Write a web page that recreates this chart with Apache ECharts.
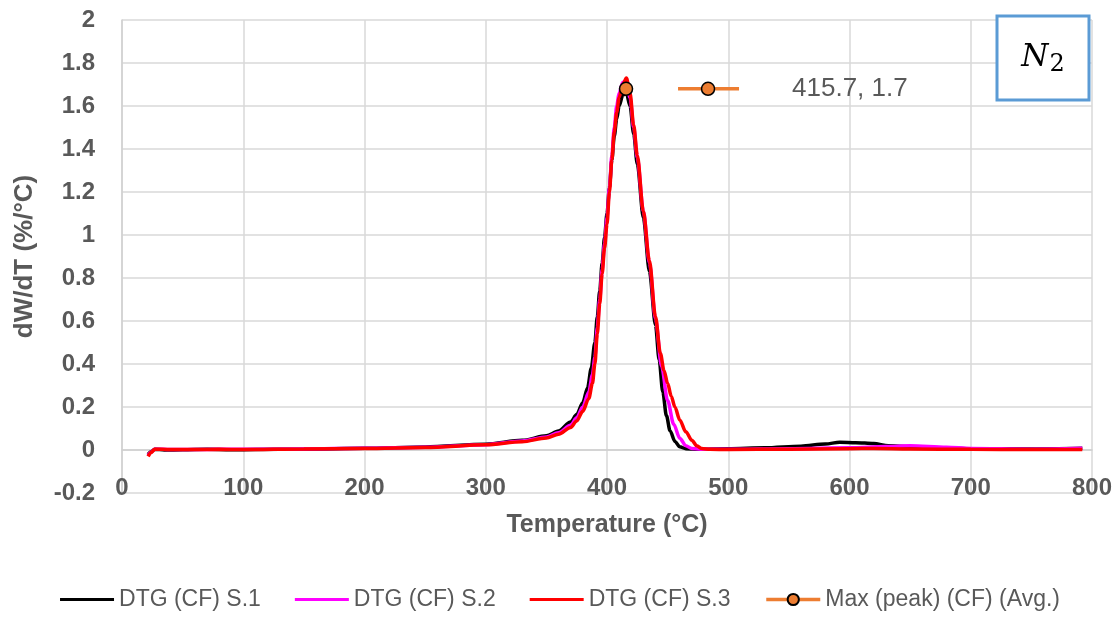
<!DOCTYPE html>
<html><head><meta charset="utf-8">
<script src="https://cdn.jsdelivr.net/npm/echarts@6/dist/echarts.min.js"></script>
<style>html,body{margin:0;padding:0;background:#fff}#c{width:1120px;height:618px}</style>
</head><body><div id="c"></div>
<script>
const seriesNames = ['DTG (CF) S.1','DTG (CF) S.2','DTG (CF) S.3','Max (peak) (CF) (Avg.)'];
const xTicks = [0,100,200,300,400,500,600,700,800];
const yTicks = [-0.2,0,0.2,0.4,0.6,0.8,1,1.2,1.4,1.6,1.8,2];

const tS1 = [21.5,24,27,35,50,70,90,110,150,200,250,300,330,350,360,370,375,380,384,387,390,392,394,396,398,400,402,404,406,408,410,413,416,419,422,425,430,435,440,443,446,449,452,456,460,465,475,500,530,560,580,592,605,620,632,660,700,750,792];
const vS1 = [-0.02,-0.008,0.004,0.0,0.001,0.003,0.001,0.002,0.004,0.008,0.014,0.027,0.045,0.066,0.088,0.13,0.165,0.22,0.29,0.38,0.5,0.62,0.74,0.87,0.99,1.1,1.22,1.35,1.46,1.54,1.6,1.65,1.66,1.6,1.47,1.33,1.08,0.83,0.58,0.42,0.27,0.16,0.09,0.04,0.015,0.006,0.004,0.006,0.01,0.018,0.028,0.036,0.034,0.03,0.02,0.013,0.006,0.005,0.008];

const tS2 = [21.5,24,27,40,60,80,100,150,200,250,300,330,350,360,370,375,380,385,388,390,392,394,396,398,400,402,404,406,408,410,413,416,419,422,425,430,435,440,445,450,455,460,465,470,480,500,550,600,630,650,680,700,750,792];
const vS2 = [-0.025,-0.01,0.004,0.002,0.002,0.003,0.003,0.005,0.008,0.013,0.025,0.042,0.061,0.08,0.115,0.15,0.2,0.27,0.35,0.43,0.57,0.7,0.84,0.96,1.08,1.22,1.37,1.5,1.6,1.66,1.71,1.71,1.64,1.5,1.36,1.11,0.87,0.61,0.39,0.23,0.12,0.055,0.02,0.007,0.003,0.003,0.006,0.01,0.016,0.02,0.013,0.007,0.004,0.008];

const tS3 = [21.5,24,27,40,60,80,100,150,200,250,300,330,350,360,370,375,380,385,388,390,392,394,396,398,400,402,404,406,408,410,413,416,419,422,425,430,435,440,444,447,450,453,456,460,465,470,474,478,485,500,550,600,620,650,700,750,792];
const vS3 = [-0.03,-0.012,0.004,0.002,0.002,0.003,0.002,0.005,0.007,0.012,0.024,0.038,0.056,0.073,0.105,0.135,0.18,0.24,0.31,0.4,0.54,0.68,0.82,0.94,1.05,1.2,1.35,1.48,1.57,1.64,1.7,1.73,1.66,1.51,1.37,1.11,0.88,0.62,0.45,0.37,0.31,0.25,0.2,0.14,0.085,0.045,0.02,0.007,0.003,0.002,0.004,0.006,0.007,0.005,0.003,0.002,0.002];

const peakT = [415.7];
const peakV = [1.68];
const peakLabel = '415.7, 1.7';

const zip = (a,b) => a.map((x,i)=>[x,b[i]]);
const grey = '#595959';
const gridCol = '#d9d9d9';
const font = "'Liberation Sans', Arial, sans-serif";
const lineIcon = 'path://M0,0H54V3.2H0Z';

const chart = echarts.init(document.getElementById('c'), null, {renderer:'canvas'});
function lineSeries(name, t, v, color){
  return {name, type:'line', data: zip(t,v), xAxisIndex:0, yAxisIndex:0,
    symbol:'none', smooth:0.3, smoothMonotone:'x',
    lineStyle:{color, width:3.5}, itemStyle:{color}, emphasis:{disabled:true}, animation:false};
}
chart.setOption({
  animation:false,
  backgroundColor:'#fff',
  grid:{left:122, right:28, top:20, bottom:125, containLabel:false},
  xAxis:[
    {type:'value', min:0, max:800, interval:100, position:'bottom',
     axisLine:{show:true, onZero:true, lineStyle:{color:'#d0d0d0', width:1.5}},
     axisTick:{show:false}, axisLabel:{show:false},
     splitLine:{show:true, lineStyle:{color:gridCol, width:1.5}}},
    {type:'value', min:0, max:800, interval:100, position:'bottom',
     axisLine:{show:false, onZero:false}, axisTick:{show:false},
     splitLine:{show:false},
     axisLabel:{show:true, margin:-5, verticalAlign:'middle', color:grey, fontWeight:'bold', fontSize:24, fontFamily:font,
       formatter: v => xTicks.includes(v) ? String(v) : ''},
     name:'Temperature (°C)', nameLocation:'middle', nameGap:20,
     nameTextStyle:{color:grey, fontWeight:'bold', fontSize:25, fontFamily:font, verticalAlign:'top'}}
  ],
  yAxis:{type:'value', min:-0.2, max:2, interval:0.2,
    axisLine:{show:true, lineStyle:{color:'#d0d0d0', width:1.5}}, axisTick:{show:false},
    splitLine:{show:true, lineStyle:{color:gridCol, width:1.5}},
    axisLabel:{margin:27, color:grey, fontWeight:'bold', fontSize:24, fontFamily:font,
      formatter: v => { const r = Math.round(v*10)/10; return yTicks.includes(r) ? String(r) : ''; }},
    name:'dW/dT (%/°C)', nameLocation:'middle', nameGap:84,
    nameTextStyle:{color:grey, fontWeight:'bold', fontSize:26, fontFamily:font}},
  legend:{bottom:2, left:'center', itemWidth:54, itemHeight:14, itemGap:34,
    textStyle:{color:grey, fontSize:23, fontFamily:font},
    data:[
      {name:seriesNames[0], icon:lineIcon},
      {name:seriesNames[1], icon:lineIcon},
      {name:seriesNames[2], icon:lineIcon},
      {name:seriesNames[3], lineStyle:{width:3.5}}
    ]},
  series:[
    lineSeries(seriesNames[0], tS1, vS1, '#000000'),
    lineSeries(seriesNames[1], tS2, vS2, '#ff00ff'),
    lineSeries(seriesNames[2], tS3, vS3, '#ff0000'),
    {name:seriesNames[3], type:'line', data: zip(peakT, peakV), symbol:'circle', symbolSize:13,
     lineStyle:{color:'#ed7d31', width:3.5}, itemStyle:{color:'#ed7d31', borderColor:'#000', borderWidth:1.5},
     z:5, emphasis:{disabled:true}}
  ]
});

// data label with legend key, anchored to the peak point through the chart scale
const p = chart.convertToPixel({xAxisIndex:0, yAxisIndex:0}, [peakT[0], peakV[0]]);
chart.setOption({graphic:[
  {type:'line', shape:{x1:p[0]+52, y1:p[1], x2:p[0]+113, y2:p[1]}, style:{stroke:'#ed7d31', lineWidth:3.5}, z:10},
  {type:'circle', shape:{cx:p[0]+82, cy:p[1], r:6.5}, style:{fill:'#ed7d31', stroke:'#000', lineWidth:1.5}, z:11},
  {type:'text', x:p[0]+166, y:p[1], style:{text:peakLabel, fill:grey, font:"26px 'Liberation Sans', Arial, sans-serif", textVerticalAlign:'middle'}, z:10},
  {type:'rect', shape:{x:997, y:16, width:92, height:84}, style:{fill:'#fff', stroke:'#5b9bd5', lineWidth:3}, z:20},
  {type:'text', x:1043, y:58, z:21, style:{
     text:'{n|N}{s|2}', textAlign:'center', textVerticalAlign:'middle',
     rich:{n:{font:"italic 31px 'DejaVu Serif', 'Liberation Serif', serif", fill:'#000'},
           s:{font:"24px 'DejaVu Serif', 'Liberation Serif', serif", fill:'#000', padding:[14,0,0,1]}}}}
]});
</script></body></html>
